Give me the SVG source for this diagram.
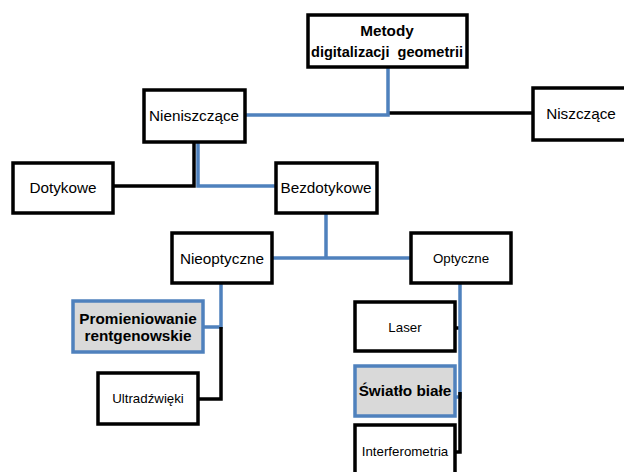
<svg xmlns="http://www.w3.org/2000/svg" width="624" height="472" viewBox="0 0 624 472">
<style>
.box{fill:#fff;stroke:#000;stroke-width:3.5}
.hl{fill:#d9d9d9;stroke:#4f81bd;stroke-width:3.5}
.b{fill:none;stroke:#4f81bd;stroke-width:3.5}
.k{fill:none;stroke:#000;stroke-width:3.5}
text{font-family:"Liberation Sans",Arial,sans-serif;fill:#000;text-anchor:middle;dominant-baseline:central}
.t14{font-size:15.3px}
.t12{font-size:13.3px}
.bold{font-weight:bold;font-size:15.3px}
</style>
<rect width="624" height="472" fill="#fff"/>
<g id="connectors">
<polyline class="k" points="388,113 533,113"/>
<polyline class="b" points="388,67 388,115 245,115"/>
<polyline class="k" points="113,186 194,186 194,142"/>
<polyline class="b" points="198,142 198,186 276,186"/>
<polyline class="b" points="326,213 326,258"/>
<polyline class="b" points="272,258 411,258"/>
<polyline class="b" points="221,283 221,327 203,327"/>
<polyline class="k" points="221,327 221,399 198,399"/>
<polyline class="k" points="455,328 460,328"/>
<polyline class="b" points="460,283 460,397 455,397"/>
<polyline class="k" points="460,392 460,452 455,452"/>
</g>
<g id="metody"><rect class="box" x="308" y="15" width="159" height="52"/><text class="bold" x="387" y="30">Metody</text><text class="bold" x="387" y="52" xml:space="preserve" style="font-size:14.6px" textLength="152" lengthAdjust="spacingAndGlyphs">digitalizacji  geometrii</text></g>
<g id="nieniszczace"><rect class="box" x="144" y="90" width="101" height="52"/><text class="t14" x="194" y="115">Nieniszczące</text></g>
<g id="niszczace"><rect class="box" x="533" y="88" width="100" height="52"/><text class="t14" x="581" y="113">Niszczące</text></g>
<g id="dotykowe"><rect class="box" x="13" y="163" width="100" height="50"/><text class="t14" x="63" y="187">Dotykowe</text></g>
<g id="bezdotykowe"><rect class="box" x="276" y="163" width="101" height="50"/><text class="t14" x="326" y="187">Bezdotykowe</text></g>
<g id="nieoptyczne"><rect class="box" x="172" y="233" width="100" height="50"/><text class="t14" x="222" y="258">Nieoptyczne</text></g>
<g id="optyczne"><rect class="box" x="411" y="233" width="100" height="50"/><text class="t12" x="461" y="258">Optyczne</text></g>
<g id="promieniowanie"><rect class="hl" x="73" y="301" width="130" height="51"/><text class="bold" x="138" y="318">Promieniowanie</text><text class="bold" x="138" y="335">rentgenowskie</text></g>
<g id="ultradzwieki"><rect class="box" x="98" y="373" width="100" height="51"/><text class="t12" x="148" y="398">Ultradźwięki</text></g>
<g id="laser"><rect class="box" x="355" y="302" width="100" height="49"/><text class="t12" x="405" y="327">Laser</text></g>
<g id="swiatlo"><rect class="hl" x="355" y="366" width="100" height="50"/><text class="bold" x="405" y="390">Światło białe</text></g>
<g id="interferometria"><rect class="box" x="355" y="425" width="100" height="60"/><text class="t12" x="405" y="451">Interferometria</text></g>
</svg>
